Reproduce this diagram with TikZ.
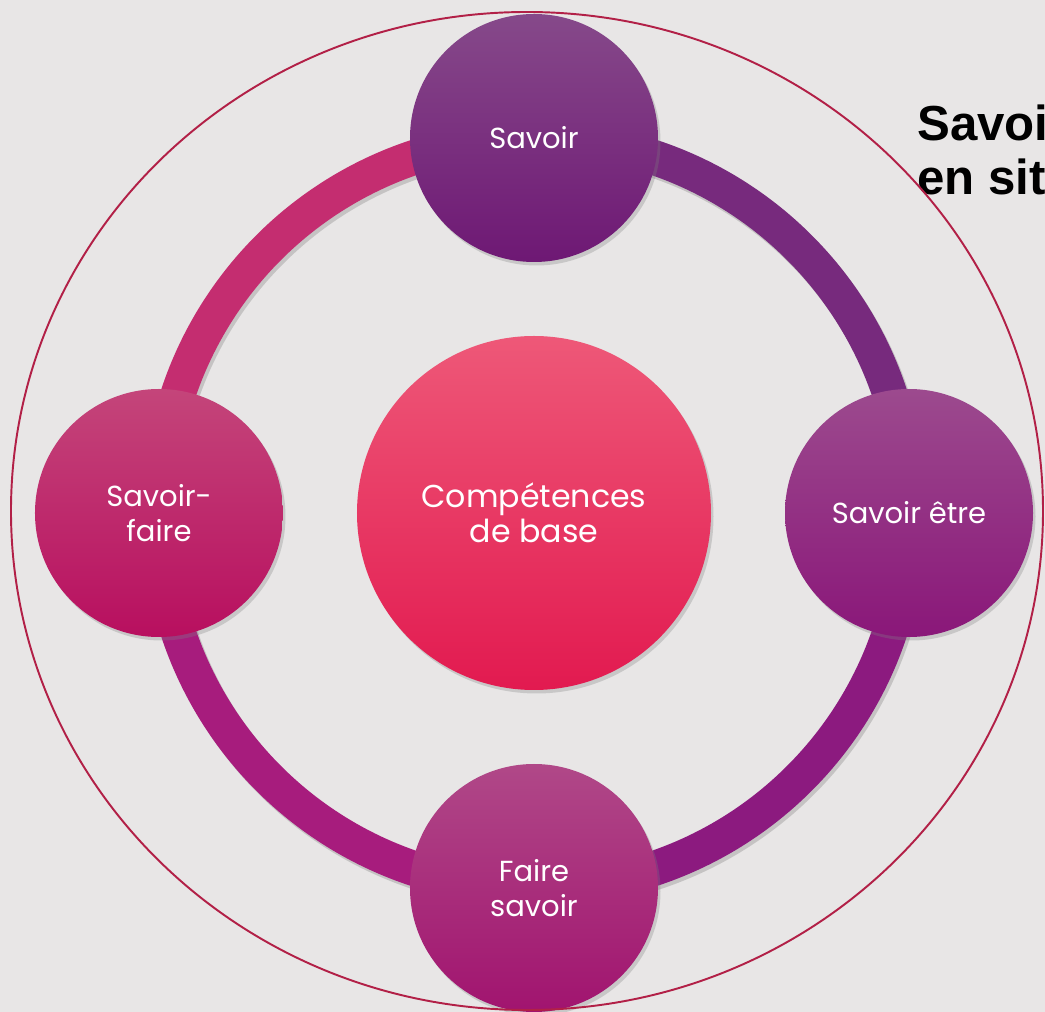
\documentclass[tikz,border=0pt]{standalone}
\usepackage{fontspec}
\setmainfont{Poppins}
\newfontfamily\headfont{Liberation Sans}
\usetikzlibrary{shadows}
\pgfdeclarelayer{background}
\pgfsetlayers{background,main}
\definecolor{paper}{HTML}{E8E6E6}
\definecolor{framered}{HTML}{B22047}
\definecolor{ringtl}{HTML}{C42D70}
\definecolor{ringtr}{HTML}{772A7D}
\definecolor{ringbr}{HTML}{8C1A7F}
\definecolor{ringbl}{HTML}{A71C7D}
\definecolor{basetop}{HTML}{EE5878}
\definecolor{basebot}{HTML}{E21A50}
\definecolor{savtop}{HTML}{86498A}
\definecolor{savbot}{HTML}{6E1874}
\definecolor{etretop}{HTML}{9C4A8E}
\definecolor{etrebot}{HTML}{8A1779}
\definecolor{fairetop}{HTML}{B04888}
\definecolor{fairebot}{HTML}{A1146F}
\definecolor{sftop}{HTML}{C4457A}
\definecolor{sfbot}{HTML}{B80F5F}
\tikzset{
  bubble/.style     = { circle, minimum size=4.96cm, inner sep=0pt, text=white, align=center,
                        font=\fontsize{16.5}{19.5}\selectfont,
                        drop shadow={shadow xshift=0.05cm, shadow yshift=-0.07cm, opacity=0.3} },
  core/.style       = { bubble, minimum size=7.08cm, font=\fontsize{18}{20}\selectfont },
  ringarc/.style    = { line width=0.7cm },
  ringshadow/.style = { line width=0.7cm, black, opacity=0.15 },
  frame/.style      = { draw=framered, line width=1.1pt },
  headline/.style   = { font=\headfont\bfseries\fontsize{28}{30}\selectfont, inner sep=0pt, anchor=base west }
}

\begin{document}
\begin{tikzpicture}
\useasboundingbox (-10.68,-9.98) rectangle (10.22,10.26);
\begin{pgfonlayer}{background}
\fill[paper] (-10.68,-9.98) rectangle (10.22,10.26);
\end{pgfonlayer}

\node[headline] (sitA) at (7.66,7.44) {Savoir};
\node[headline] (sitB) at (7.66,6.36) {en situation};

\node[core, top color=basetop, bottom color=basebot] (base) at (0,0) {Compétences\\de base};
\node[bubble, top color=savtop, bottom color=savbot] (savoir) at (0,7.5) {Savoir};
\node[bubble, top color=etretop, bottom color=etrebot] (etre) at (7.5,0) {Savoir être};
\node[bubble, top color=fairetop, bottom color=fairebot] (faire) at (0,-7.5) {Faire\\savoir};
\node[bubble, top color=sftop, bottom color=sfbot] (sf) at (-7.5,0) {Savoir-\\faire};

\begin{pgfonlayer}{background}
\foreach \a/\b/\c in {sf/savoir/ringtl, savoir/etre/ringtr, etre/faire/ringbr, faire/sf/ringbl} {
  \draw[ringshadow] ([shift={(0.05,-0.07)}]\a.center) to[bend left=45] ([shift={(0.05,-0.07)}]\b.center);
  \draw[ringarc, \c] (\a.center) to[bend left=45] (\b.center);
}
\end{pgfonlayer}

\draw[frame] (-0.14,0.04) ellipse (10.32cm and 9.98cm);
\end{tikzpicture}
\end{document}
